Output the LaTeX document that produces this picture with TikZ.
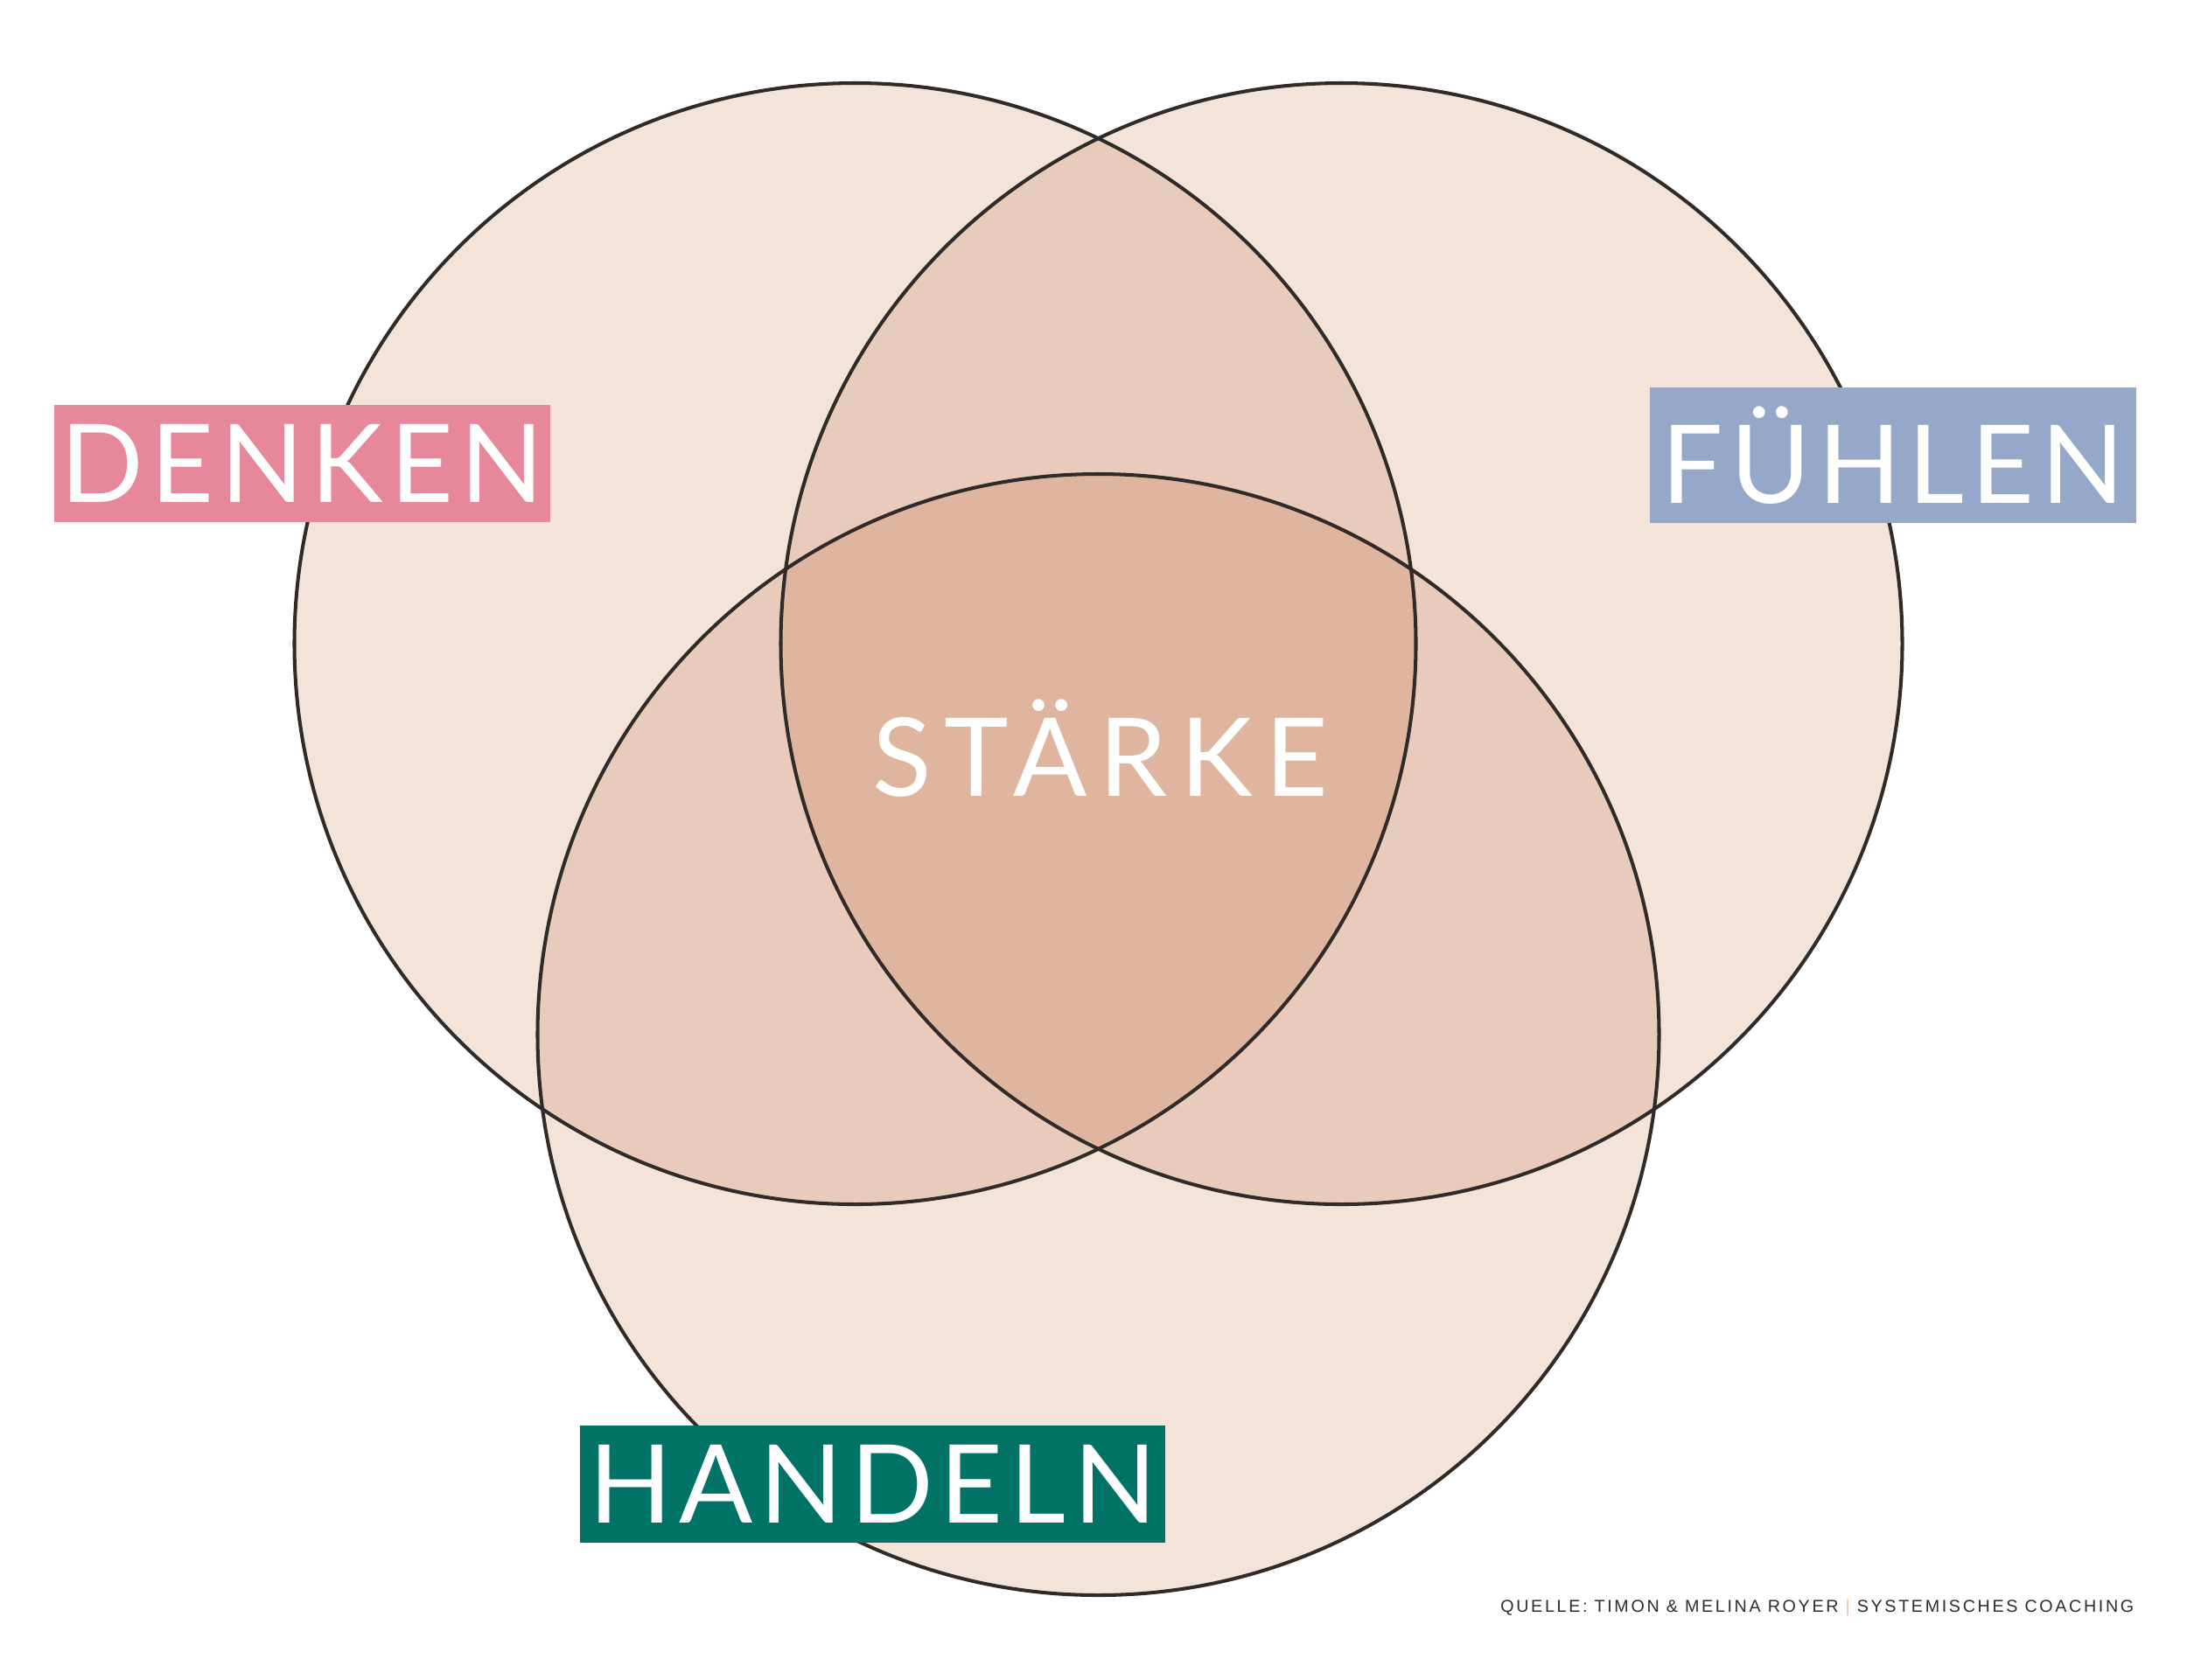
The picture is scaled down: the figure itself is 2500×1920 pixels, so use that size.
\documentclass[tikz,border=0pt]{standalone}
\usepackage{fontspec}
\setmainfont{Liberation Sans}
\newfontfamily\labelfont[LetterSpace=6.5]{Lato}
\newfontfamily\centerfont[LetterSpace=11.5]{Lato}
\newfontfamily\notefont[LetterSpace=13.5]{Liberation Sans}
\usepackage{xcolor}
\usepackage{tikz}

\definecolor{fillA}{HTML}{F4E3D9}
\definecolor{fillB}{HTML}{E8CBBB}
\definecolor{fillC}{HTML}{DFB5A0}
\definecolor{ringline}{HTML}{2F2B29}
\definecolor{denkenpink}{HTML}{E6879A}
\definecolor{fuehlenblue}{HTML}{95A8CA}
\definecolor{handelngreen}{HTML}{017366}
\definecolor{sepline}{HTML}{E2BFA9}

\tikzset{
  ring/.style={draw=ringline, line width=1.15pt},
  tag/.style={fill=#1, text=white, inner sep=0pt, text depth=0pt,
    font=\labelfont\fontsize{35.4pt}{40pt}\selectfont},
}

\begin{document}
\begin{tikzpicture}[x=0.01cm, y=-0.01cm]
            \useasboundingbox (0,0) rectangle (2500,1920);
            
            % Circle centres
            \coordinate (cL) at (977.5,736);
            \coordinate (cR) at (1533.5,736);
            \coordinate (cB) at (1255.5,1183);
            
            % Single areas
            \fill[fillA] (cL) circle[radius=641];
            \fill[fillA] (cR) circle[radius=641];
            \fill[fillA] (cB) circle[radius=641];
            
            % Overlaps of two
            \begin{scope}
              \clip (cL) circle[radius=641];
              \fill[fillB] (cR) circle[radius=641];
              \fill[fillB] (cB) circle[radius=641];
            \end{scope}
            \begin{scope}
              \clip (cR) circle[radius=641];
              \fill[fillB] (cB) circle[radius=641];
            \end{scope}
            
            % Overlap of all three
            \begin{scope}
              \clip (cL) circle[radius=641];
              \clip (cR) circle[radius=641];
              \fill[fillC] (cB) circle[radius=641];
            \end{scope}
            
            % Outlines
            \draw[ring] (cL) circle[radius=641];
            \draw[ring] (cR) circle[radius=641];
            \draw[ring] (cB) circle[radius=641];
            
            % Labels
            \node[tag=denkenpink, text height=0.89cm, minimum width=5.67cm, minimum height=1.34cm] (denken) at (345.5,530) {DENKEN};
            \node[tag=fuehlenblue, text height=1.09cm, minimum width=5.56cm, minimum height=1.55cm] (fuehlen) at (2164,520.5) {FÜHLEN};
            \node[tag=handelngreen, text height=0.89cm, minimum width=6.69cm, minimum height=1.34cm] (handeln) at (997.5,1697) {HANDELN};
            \node[text=white, inner sep=0pt, text height=0.89cm, text depth=0pt, font=\centerfont\fontsize{35.4pt}{40pt}\selectfont] (staerke) at (1257.5,865.5) {STÄRKE};
            
            % Source line
            \node[anchor=base east, inner sep=0pt, text=ringline, font=\notefont\fontsize{5.6pt}{7pt}\selectfont] (quelle) at (2440,1843) {QUELLE: TIMON \& MELINA ROYER \textcolor{sepline}{|} SYSTEMISCHES COACHING};
\end{tikzpicture}
\end{document}
